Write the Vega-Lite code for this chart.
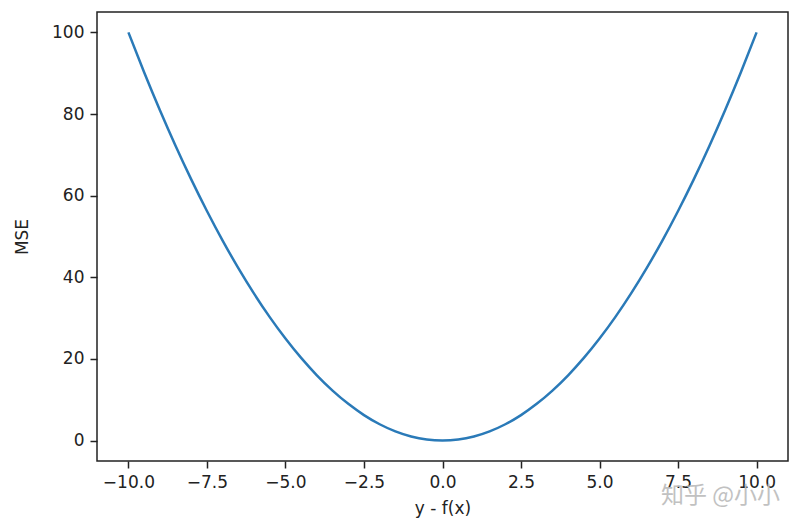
{
  "$schema": "https://vega.github.io/schema/vega-lite/v6.json",
  "width": 691,
  "height": 449,
  "autosize": "none",
  "padding": {"left": 97, "top": 12, "right": 14, "bottom": 68},
  "background": "white",
  "config": {
    "font": "DejaVu Sans",
    "view": {"stroke": "#222", "strokeWidth": 1.5},
    "axis": {
      "grid": false,
      "domain": false,
      "tickColor": "#222",
      "tickSize": 7,
      "tickWidth": 1.5,
      "labelColor": "#222",
      "labelFontSize": 17,
      "labelPadding": 6,
      "titleColor": "#222",
      "titleFontSize": 17,
      "titleFontWeight": "normal"
    }
  },
  "datasets": {
    "curve": [
      {"x": -10, "y": 100}, {"x": -9.5, "y": 90.25}, {"x": -9, "y": 81}, {"x": -8.5, "y": 72.25},
      {"x": -8, "y": 64}, {"x": -7.5, "y": 56.25}, {"x": -7, "y": 49}, {"x": -6.5, "y": 42.25},
      {"x": -6, "y": 36}, {"x": -5.5, "y": 30.25}, {"x": -5, "y": 25}, {"x": -4.5, "y": 20.25},
      {"x": -4, "y": 16}, {"x": -3.5, "y": 12.25}, {"x": -3, "y": 9}, {"x": -2.5, "y": 6.25},
      {"x": -2, "y": 4}, {"x": -1.5, "y": 2.25}, {"x": -1, "y": 1}, {"x": -0.5, "y": 0.25},
      {"x": 0, "y": 0}, {"x": 0.5, "y": 0.25}, {"x": 1, "y": 1}, {"x": 1.5, "y": 2.25},
      {"x": 2, "y": 4}, {"x": 2.5, "y": 6.25}, {"x": 3, "y": 9}, {"x": 3.5, "y": 12.25},
      {"x": 4, "y": 16}, {"x": 4.5, "y": 20.25}, {"x": 5, "y": 25}, {"x": 5.5, "y": 30.25},
      {"x": 6, "y": 36}, {"x": 6.5, "y": 42.25}, {"x": 7, "y": 49}, {"x": 7.5, "y": 56.25},
      {"x": 8, "y": 64}, {"x": 8.5, "y": 72.25}, {"x": 9, "y": 81}, {"x": 9.5, "y": 90.25},
      {"x": 10, "y": 100}
    ],
    "mark": [
      {"x": 8.85, "y": -13.5, "label": "知乎 @小小"}
    ]
  },
  "layer": [
    {
      "data": {"name": "curve"},
      "mark": {"type": "line", "color": "#2a7ab8", "strokeWidth": 2.5, "interpolate": "monotone"},
      "encoding": {
        "x": {
          "field": "x", "type": "quantitative",
          "scale": {"domain": [-11, 11], "nice": false, "zero": false},
          "axis": {"values": [-10, -7.5, -5, -2.5, 0, 2.5, 5, 7.5, 10], "format": ".1f", "title": "y - f(x)", "titlePadding": 10}
        },
        "y": {
          "field": "y", "type": "quantitative",
          "scale": {"domain": [-5, 105], "nice": false, "zero": false},
          "axis": {"values": [0, 20, 40, 60, 80, 100], "title": "MSE", "titlePadding": 20}
        }
      }
    },
    {
      "data": {"name": "mark"},
      "mark": {"type": "text", "font": "Noto Sans CJK SC", "fontSize": 23, "color": "#bbbbbb", "opacity": 0.9, "clip": false},
      "encoding": {
        "x": {"field": "x", "type": "quantitative"},
        "y": {"field": "y", "type": "quantitative"},
        "text": {"field": "label"}
      }
    }
  ]
}
